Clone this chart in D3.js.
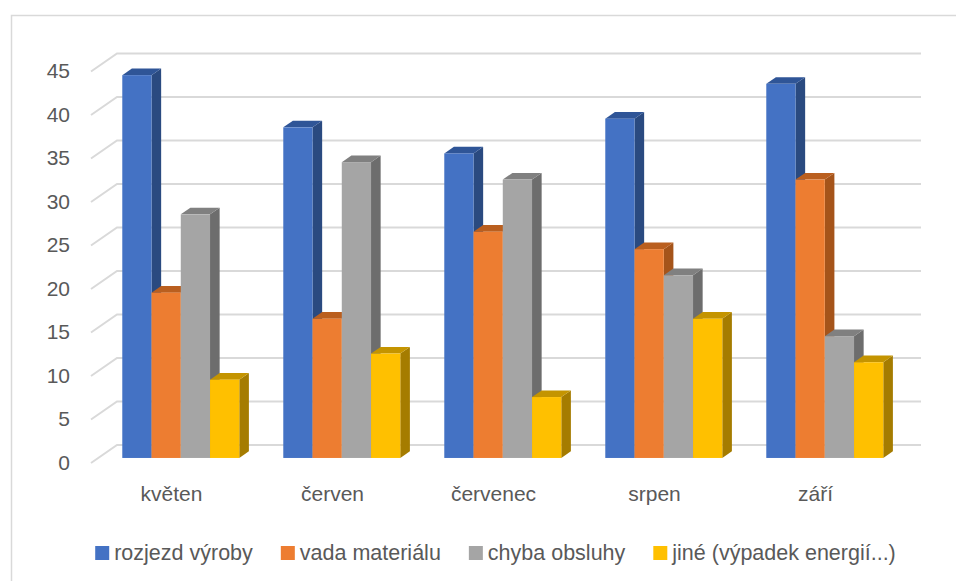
<!DOCTYPE html>
<html>
<head>
<meta charset="utf-8">
<script src="https://cdn.jsdelivr.net/npm/d3@7"></script>
<style>
  body { margin: 0; background: #fff; }
  svg text { font-family: "Liberation Sans", Arial, sans-serif; fill: #595959; }
</style>
</head>
<body>
<svg id="chart" width="956" height="581"></svg>
<script>
const categories = ["květen", "červen", "červenec", "srpen", "září"];
const seriesNames = ["rozjezd výroby", "vada materiálu", "chyba obsluhy", "jiné (výpadek energií...)"];
const rozjezdVyroby = [44, 38, 35, 39, 43];
const vadaMaterialu = [19, 16, 26, 24, 32];
const chybaObsluhy = [28, 34, 32, 21, 14];
const jine = [9, 12, 7, 16, 11];
const yTicks = [0, 5, 10, 15, 20, 25, 30, 35, 40, 45];

const seriesValues = [rozjezdVyroby, vadaMaterialu, chybaObsluhy, jine];
// front / top / side shades per series
const shades = [
    { front: "#4472C4", top: "#2F5597", side: "#2A4A80" },
    { front: "#ED7D31", top: "#BA5F1F", side: "#A5541A" },
    { front: "#A5A5A5", top: "#808080", side: "#6D6D6D" },
    { front: "#FFC000", top: "#C49400", side: "#A57C00" }
];

const svg = d3.select("#chart");

// outer frame
svg.append("rect")
    .attr("x", 11.5).attr("y", 15.5)
    .attr("width", 980).attr("height", 600)
    .attr("fill", "none").attr("stroke", "#D9D9D9").attr("stroke-width", 1.5);

// floor front plane scales; depth goes back-right
const y = d3.scaleLinear().domain([0, 45]).range([463, 71.5]);
const x0 = d3.scaleBand().domain(categories).range([91, 896]);
const x1 = d3.scaleBand().domain(seriesNames).range([24, 141]);
const DX = 26, DY = -18;
const backRight = 921;
const proj = (px, v, d) => [px + d * DX, y(v) + d * DY];

// gridlines: diagonal on side wall + horizontal on back wall
const grid = svg.append("g");
yTicks.forEach(v => {
    const a = proj(91, v, 0), b = proj(91, v, 1);
    grid.append("polyline")
        .attr("points", [a, b, [backRight, b[1]]].map(p => p.join(",")).join(" "))
        .attr("fill", "none").attr("stroke", "#D9D9D9").attr("stroke-width", 2);
    svg.append("text")
        .attr("x", 70).attr("y", a[1] + 1)
        .attr("text-anchor", "end").attr("dominant-baseline", "middle")
        .style("font-size", "21px")
        .text(v);
});

// bars
const d0 = 0.28, d1 = 0.65;
const bars = svg.append("g");
const pts = arr => arr.map(p => p.join(",")).join(" ");
categories.forEach((cat, ci) => {
    seriesNames.forEach((s, si) => {
        const v = seriesValues[si][ci];
        const xl = x0(cat) + x1(s);
        const xr = xl + x1.bandwidth();
        const c = shades[si];
        // side face
        bars.append("polygon")
            .attr("points", pts([proj(xr, 0, d0), proj(xr, 0, d1), proj(xr, v, d1), proj(xr, v, d0)]))
            .attr("fill", c.side);
        // top face
        bars.append("polygon")
            .attr("points", pts([proj(xl, v, d0), proj(xr, v, d0), proj(xr, v, d1), proj(xl, v, d1)]))
            .attr("fill", c.top);
        // front face
        const fl = proj(xl, v, d0), fr = proj(xr, 0, d0);
        bars.append("rect")
            .attr("x", fl[0]).attr("y", fl[1])
            .attr("width", fr[0] - fl[0]).attr("height", fr[1] - fl[1])
            .attr("fill", c.front);
    });
    svg.append("text")
        .attr("x", x0(cat) + x0.bandwidth() / 2).attr("y", 501)
        .attr("text-anchor", "middle")
        .style("font-size", "21px")
        .text(cat);
});

// legend, centred under the plot
const legend = svg.append("g");
const sq = 14, gapText = 5, gapItem = 28;
const items = seriesNames.map((s, i) => {
    const g = legend.append("g");
    g.append("rect").attr("y", 546).attr("width", sq).attr("height", sq).attr("fill", shades[i].front);
    const t = g.append("text").attr("x", sq + gapText).attr("y", 560)
        .style("font-size", "21.5px").text(s);
    return { g, w: sq + gapText + t.node().getComputedTextLength() };
});
const total = d3.sum(items, d => d.w) + gapItem * (items.length - 1);
let lx = 495.5 - total / 2;
items.forEach(it => {
    it.g.attr("transform", `translate(${lx},0)`);
    lx += it.w + gapItem;
});
</script>
</body>
</html>
